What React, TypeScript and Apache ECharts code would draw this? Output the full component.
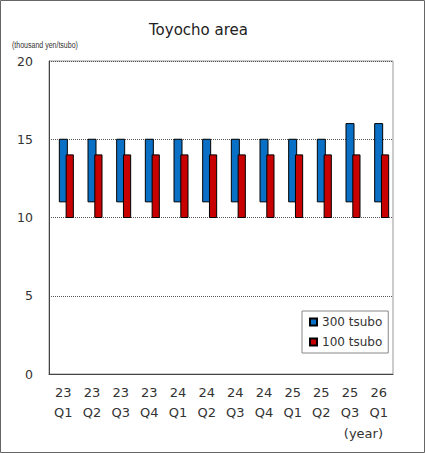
import { useRef, useEffect } from 'react';
import * as echarts from 'echarts';

const categories = ['23\nQ1', '23\nQ2', '23\nQ3', '23\nQ4', '24\nQ1', '24\nQ2', '24\nQ3', '24\nQ4', '25\nQ1', '25\nQ2', '25\nQ3', '26\nQ1'];
// 300 tsubo range (low / high)
const low300 = [11, 11, 11, 11, 11, 11, 11, 11, 11, 11, 11, 11];
const high300 = [15, 15, 15, 15, 15, 15, 15, 15, 15, 15, 16, 16];
// 100 tsubo range (low / high)
const low100 = [10, 10, 10, 10, 10, 10, 10, 10, 10, 10, 10, 10];
const high100 = [14, 14, 14, 14, 14, 14, 14, 14, 14, 14, 14, 14];

const FONT = 'DejaVu Sans';

// draws one floating bar from low to high, shifted sideways by offset px
const rangeBar = (offset: number, width: number) => (_params: any, api: any) => {
  const top = api.coord([api.value(0), api.value(2)]);
  const bottom = api.coord([api.value(0), api.value(1)]);
  return {
    type: 'rect',
    shape: { x: top[0] + offset - width / 2, y: top[1], width, height: bottom[1] - top[1] },
    style: { fill: api.visual('color'), stroke: '#000', lineWidth: 1 },
  };
};

export default function App() {
  const chartRef = useRef<HTMLDivElement>(null);

  useEffect(() => {
    if (!chartRef.current) return;
    const chart = echarts.init(chartRef.current, undefined, { renderer: 'svg' });

    chart.setOption({
      animation: false,
      backgroundColor: '#fff',
      title: {
        text: 'Toyocho area',
        left: 144,
        top: 17,
        textStyle: { fontFamily: FONT, fontSize: 15, fontWeight: 'normal', color: '#222' },
      },
      legend: {
        orient: 'vertical',
        left: 302,
        top: 311,
        padding: [5, 6, 5, 7],
        itemGap: 8,
        itemWidth: 7,
        itemHeight: 7,
        borderColor: '#888',
        borderWidth: 1,
        backgroundColor: '#fff',
        icon: 'rect',
        textStyle: { fontFamily: FONT, fontSize: 12, color: '#333' },
        data: ['300 tsubo', '100 tsubo'],
      },
      grid: {
        left: 49,
        right: 32,
        top: 61,
        bottom: 79,
        show: true,
        borderColor: '#999',
        borderWidth: 1,
      },
      xAxis: {
        type: 'category',
        data: categories,
        boundaryGap: true,
        axisLine: { lineStyle: { color: '#444' } },
        axisTick: { inside: true, length: 4, lineStyle: { color: '#444' } },
        axisLabel: { fontFamily: FONT, fontSize: 13, color: '#333', lineHeight: 20, margin: 8, interval: 0 },
      },
      yAxis: {
        type: 'value',
        min: 0,
        max: 20,
        interval: 5,
        axisLine: { show: true, lineStyle: { color: '#444' } },
        axisTick: { show: false },
        axisLabel: { fontFamily: FONT, fontSize: 12.5, color: '#333', margin: 16 },
        splitLine: { lineStyle: { color: '#555', type: [1, 1], width: 1 } },
      },
      graphic: [
        {
          type: 'rect',
          shape: { x: 0.5, y: 0.5, width: 424, height: 452 },
          style: { fill: 'none', stroke: '#666', lineWidth: 1 },
          silent: true,
        },
        {
          type: 'text',
          x: 12,
          y: 45,
          scaleX: 0.78,
          style: { text: '(thousand yen/tsubo)', fontFamily: 'Liberation Sans', fontSize: 9, fill: '#333', verticalAlign: 'middle' },
        },
        {
          type: 'text',
          x: 383,
          y: 433,
          style: { text: '(year)', fontFamily: FONT, fontSize: 13, fill: '#333', align: 'right', verticalAlign: 'middle' },
        },
      ],
      series: [
        {
          name: '300 tsubo',
          type: 'custom',
          renderItem: rangeBar(0, 8),
          itemStyle: { color: '#0a70c6', borderColor: '#000', borderWidth: 1 },
          encode: { x: 0, y: [1, 2] },
          data: categories.map((_, i) => [i, low300[i], high300[i]]),
        },
        {
          name: '100 tsubo',
          type: 'custom',
          renderItem: rangeBar(6.4, 7.2),
          itemStyle: { color: '#c80000', borderColor: '#000', borderWidth: 1 },
          encode: { x: 0, y: [1, 2] },
          data: categories.map((_, i) => [i, low100[i], high100[i]]),
        },
      ],
    });

    return () => {
      chart.dispose();
    };
  }, []);

  return <div ref={chartRef} style={{ position: 'fixed', left: 0, top: 0, width: 425, height: 453 }} />;
}
